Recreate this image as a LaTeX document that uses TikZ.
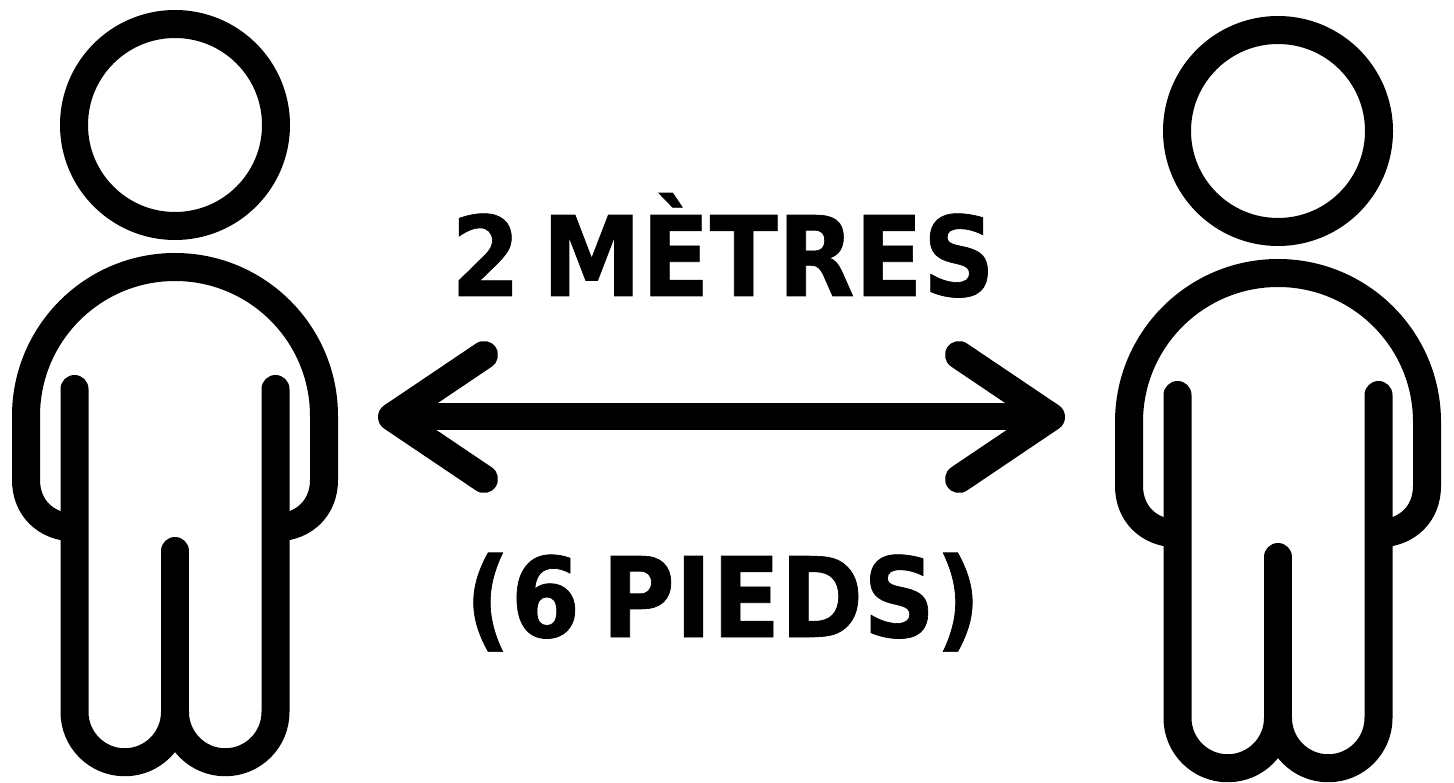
\documentclass[tikz,border=0pt]{standalone}
\usepackage{fontspec}
\setmainfont[FakeStretch=0.9,WordSpace=0.62,BoldFeatures={FakeBold=0.6}]{DejaVu Sans}
\tikzset{
  ink/.style={draw=black,line width=28pt,line cap=round,line join=round},
  label/.style={inner sep=0pt,font=\fontsize{111}{111}\selectfont\bfseries,text=black},
  person/.pic={
    \draw[ink] (175,125) circle (101);
    \draw[ink,line cap=butt] (74,527.5) .. controls (45,527) and (26,507) .. (26,480) -- (26,416)
      arc[start angle=180,end angle=360,radius=149] -- (324,480)
      .. controls (324,507) and (305,527) .. (276,527.5);
    \draw[ink] (74.5,389) -- (74.5,712) arc[start angle=180,end angle=0,radius=50.25]
      arc[start angle=180,end angle=0,radius=50.25] -- (275.5,389);
    \draw[ink] (175,551) -- (175,712);
  }
}
\begin{document}
\begin{tikzpicture}[x=1pt,y=-1pt]
\useasboundingbox (0,0) rectangle (1454,783);
\pic at (0,0) {person};
\pic at (1103,6) {person};
\coordinate (L) at (392,417);
\coordinate (R) at (1051,417);
\coordinate (LU) at (484,355);
\coordinate (LD) at (484,479);
\coordinate (RU) at (959,355);
\coordinate (RD) at (959,479);
\draw[ink,line width=27pt] (L) -- (R);
\draw[ink] (LU) -- (L) -- (LD);
\draw[ink] (RU) -- (R) -- (RD);
\node[label,anchor=base] (t1) at (723,296) {2 MÈTRES};
\node[label,anchor=base] (t2) at (723,637) {(6 PIEDS)};
\end{tikzpicture}
\end{document}
